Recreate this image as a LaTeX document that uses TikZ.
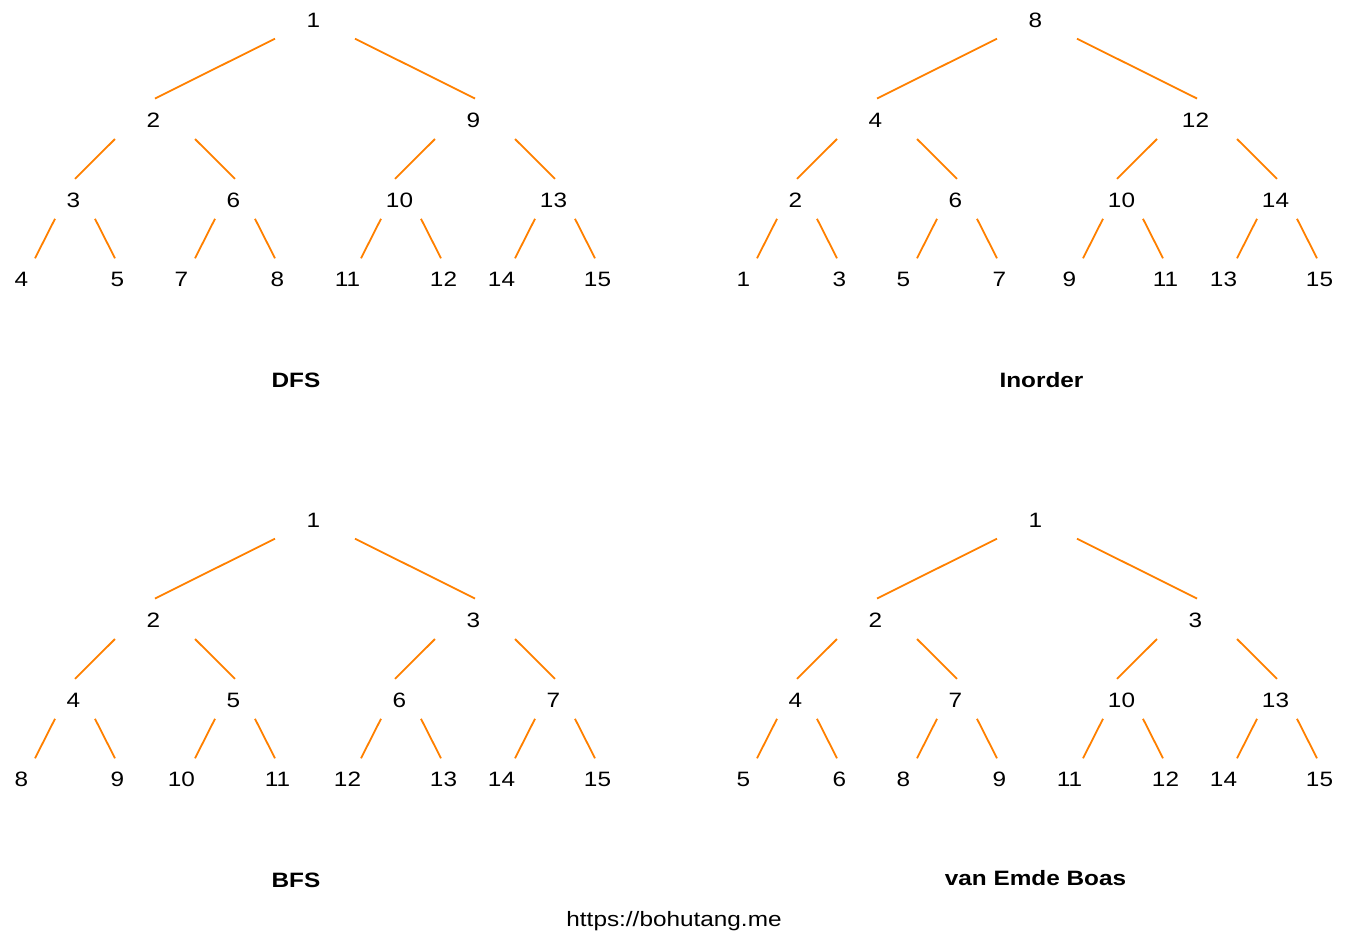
\documentclass[tikz,border=0pt]{standalone}
\usepackage{fontspec}
\setmainfont{Liberation Sans}[FakeStretch=1.17]
\begin{document}
\begin{tikzpicture}[x=0.75pt,y=-0.75pt,
  every node/.style={font=\fontsize{15.6}{18}\selectfont, inner sep=0pt},
  num/.style={anchor=center},
  title/.style={anchor=center, font=\fontsize{15.6}{18}\selectfont\bfseries},
  edge/.style={draw={rgb,255:red,255;green,128;blue,0}, line width=1.35pt}]
\useasboundingbox (0,0) rectangle (1360,940);
\newcommand\bttree[4]{%
  \begin{scope}[shift={(#2,#3)}]
    \foreach \lab [count=\i] in {#4} {
      \pgfmathsetmacro\px{{313.5,153.5,473.5,73.5,233.5,399.5,553.5,21.5,117.5,181.5,277.5,347.5,443.5,501.5,597.5}[\i-1]}
      \pgfmathsetmacro\py{{20.5,120.5,120.5,200.3,200.3,200.3,200.3,279.5,279.5,279.5,279.5,279.5,279.5,279.5,279.5}[\i-1]}
      \node[num] (#1\i) at (\px,\py) {\lab};
    }
    \foreach \p/\ldx/\rdx/\dy/\lex/\rex/\ey in {
      1/-38.5/41.5/18.2/1.5/1.5/-22,
      2/-38.5/41.5/18.5/1.5/1.5/-21.5,
      3/-38.5/41.5/18.5/-4.5/1.5/-21.5,
      4/-18.5/21.5/18.5/13.5/-2.5/-21.2,
      5/-18.5/21.5/18.5/13.5/-2.5/-21.2,
      6/-18.5/21.5/18.5/13.5/-2.5/-21.2,
      7/-18.5/21.5/18.5/13.5/-2.5/-21.2} {
      \pgfmathtruncatemacro\chl{2*\p}
      \pgfmathtruncatemacro\chr{2*\p+1}
      \draw[edge] ([shift={(\ldx,\dy)}]#1\p.center) -- ([shift={(\lex,\ey)}]#1\chl.center);
      \draw[edge] ([shift={(\rdx,\dy)}]#1\p.center) -- ([shift={(\rex,\ey)}]#1\chr.center);
    }
  \end{scope}}
\bttree{dfs}{0}{0}{1,2,9,3,6,10,13,4,5,7,8,11,12,14,15}
\bttree{ino}{722}{0}{8,4,12,2,6,10,14,1,3,5,7,9,11,13,15}
\bttree{bfs}{0}{500}{1,2,3,4,5,6,7,8,9,10,11,12,13,14,15}
\bttree{veb}{722}{500}{1,2,3,4,7,10,13,5,6,8,9,11,12,14,15}
\node[title] (tdfs) at (296,380) {DFS};
\node[title] (tino) at (1041.5,380) {Inorder};
\node[title] (tbfs) at (296,880) {BFS};
\node[title] (tveb) at (1035.5,878.5) {van Emde Boas};
\node[anchor=base] (url) at (674,926) {https://bohutang.me};
\end{tikzpicture}
\end{document}
